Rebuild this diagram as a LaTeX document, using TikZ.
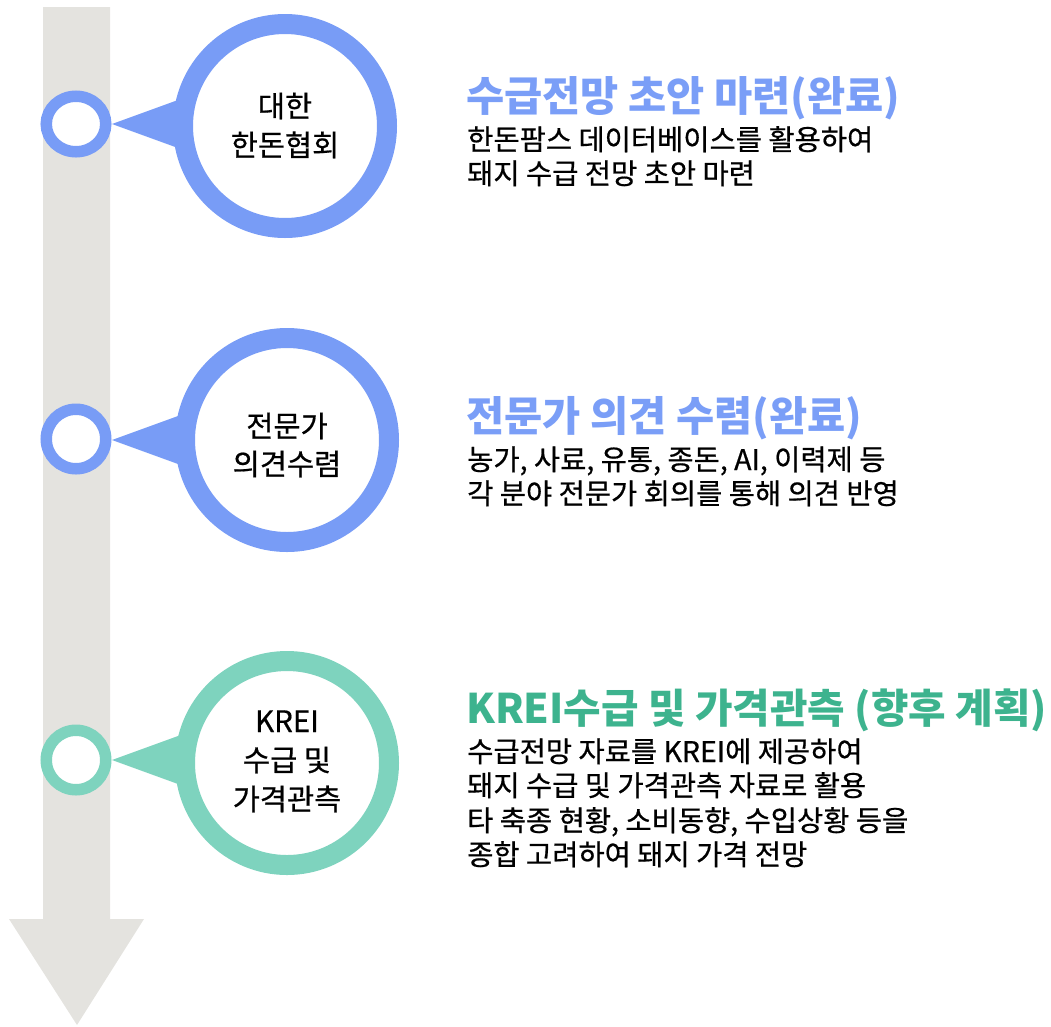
\documentclass[tikz,border=0pt]{standalone}
\usepackage{fontspec}
\usetikzlibrary{shapes.geometric}
\setmainfont{Noto Sans CJK KR}
\newfontfamily\bodyfont[FakeBold=0.6]{Noto Sans CJK KR}
\definecolor{shaftgray}{HTML}{E4E3DF}
\definecolor{ringblue}{HTML}{789CF6}
\definecolor{ringgreen}{HTML}{7ED3BE}
\definecolor{titleblue}{HTML}{7A9EF7}
\definecolor{titlegreen}{HTML}{3DB38E}
\tikzset{
  smallring/.style={circle, draw=#1, line width=11.5pt, fill=white, minimum size=59.5pt, inner sep=0pt},
  bigring/.style={circle, draw=#1, line width=20pt, fill=white, minimum size=204pt, inner sep=0pt},
  pointer/.style={fill=#1, draw=none},
  titletext/.style={anchor=base west, inner sep=0pt, text=#1, font=\fontsize{41.5}{46}\selectfont\bfseries},
  bodytext/.style={anchor=base west, inner sep=0pt, text=black, font=\bodyfont\fontsize{28.5}{32}\selectfont},
  circtext/.style={anchor=base, inner sep=0pt, text=black, font=\bodyfont\fontsize{29.5}{34}\selectfont},
}
\begin{document}
\begin{tikzpicture}[x=1pt,y=-1pt]
\useasboundingbox (0,0) rectangle (1051,1026);
% timeline arrow
\fill[shaftgray] (43,7) -- (110,7) -- (110,919) -- (144,919) -- (77,1025) -- (9,919) -- (43,919) -- cycle;

% step 1
\coordinate (p1) at (112,124);
\fill[pointer=ringblue] (p1) -- (200,92) -- (200,156) -- cycle;
\node[smallring=ringblue, ellipse, minimum width=59.5pt, minimum height=55.5pt] (s1) at (76,124) {};
\node[bigring=ringblue] (c1) at (285,126) {};
\node[circtext] (c1a) at (285,117) {대한};
\node[circtext] (c1b) at (285,156) {한돈협회};

% step 2
\coordinate (p2) at (112,440);
\fill[pointer=ringblue] (p2) -- (200,408) -- (200,472) -- cycle;
\node[smallring=ringblue] (s2) at (76,439) {};
\node[bigring=ringblue] (c2) at (287,440) {};
\node[circtext] (c2a) at (287,437) {전문가};
\node[circtext] (c2b) at (287,475) {의견수렴};

% step 3
\coordinate (p3) at (112,760);
\fill[pointer=ringgreen] (p3) -- (200,728) -- (200,792) -- cycle;
\node[smallring=ringgreen] (s3) at (76,760) {};
\node[bigring=ringgreen] (c3) at (287,763) {};
\node[circtext] (c3a) at (287,732) {KREI};
\node[circtext] (c3b) at (287,771) {수급 및};
\node[circtext] (c3c) at (287,810) {가격관측};

% texts block 1
\node[titletext=titleblue] (t1) at (466,111) {수급전망 초안 마련(완료)};
\node[bodytext] (b11) at (467,150) {한돈팜스 데이터베이스를 활용하여};
\node[bodytext] (b12) at (467,184) {돼지 수급 전망 초안 마련};

% texts block 2
\node[titletext=titleblue] (t2) at (466,431) {전문가 의견 수렴(완료)};
\node[bodytext] (b21) at (467,470) {농가, 사료, 유통, 종돈, AI, 이력제 등};
\node[bodytext] (b22) at (467,504) {각 분야 전문가 회의를 통해 의견 반영};

% texts block 3
\node[titletext=titlegreen, font=\fontsize{40.8}{46}\selectfont\bfseries] (t3) at (466,723) {KREI수급 및 가격관측 (향후 계획)};
\node[bodytext] (b31) at (467,762) {수급전망 자료를 KREI에 제공하여};
\node[bodytext] (b32) at (467,796) {돼지 수급 및 가격관측 자료로 활용};
\node[bodytext] (b33) at (467,831) {타 축종 현황, 소비동향, 수입상황 등을};
\node[bodytext] (b34) at (467,865) {종합 고려하여 돼지 가격 전망};
\end{tikzpicture}
\end{document}
